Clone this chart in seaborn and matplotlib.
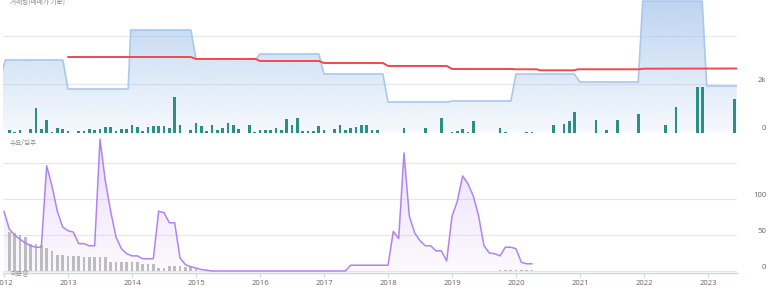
import numpy as np
import pandas as pd
import matplotlib
matplotlib.use("Agg")
import matplotlib.pyplot as plt
import matplotlib.colors as mcolors
from matplotlib.patches import PathPatch
import seaborn as sns

# ---------------- data ----------------
# price level (top panel, blue area) : decimal year / value
price_t = [2011.98, 2012.02, 2012.92, 2013.0, 2013.94, 2013.98, 2014.92, 2015.0,
           2015.94, 2016.0, 2016.92, 2017.0, 2017.92, 2018.0, 2018.94, 2019.0,
           2019.92, 2020.0, 2020.91, 2021.0, 2021.91, 2021.98, 2022.91, 2022.98, 2023.45]
price_v = [2577, 2990, 2990, 1794, 1794, 4227, 4227, 3031,
           3031, 3237, 3237, 2412, 2412, 1258, 1258, 1299,
           1299, 2412, 2412, 2083, 2083, 5420, 5420, 1918, 1918]

# trend line (top panel, red)
trend_t = [2013.0, 2014.92, 2015.0, 2015.93, 2016.0, 2016.92, 2017.0, 2017.92, 2018.0,
           2018.92, 2019.0, 2019.92, 2020.0, 2020.32, 2020.38, 2020.9, 2020.97,
           2021.92, 2022.0, 2023.45]
trend_v = [3113, 3113, 3031, 3031, 2949, 2949, 2866, 2866, 2743,
           2743, 2619, 2619, 2607, 2607, 2565, 2565, 2607,
           2607, 2631, 2640]

# monthly volume (top panel, teal bars): month index from Jan 2012
vol_m = [1, 2, 3, 5, 6, 7, 8, 9, 10, 11, 12, 14, 15, 16, 17, 18, 19, 20, 21, 22, 23,
         24, 25, 26, 27, 28, 29, 30, 31, 32, 33, 35, 36, 37, 38, 39, 40, 41, 42, 43, 44,
         46, 47, 48, 49, 50, 51, 52, 53, 54, 55, 56, 57, 58, 59, 60, 62, 63, 64, 65, 66,
         67, 68, 69, 70, 75, 79, 82, 84, 85, 86, 87, 88, 93, 94, 98, 99, 103, 105, 106,
         107, 111, 113, 115, 119, 124, 126, 130, 131, 137]
vol_v = [95, 40, 95, 150, 1020, 163, 517, 40, 204, 136, 68, 68, 68, 150, 95, 163, 230,
         218, 68, 136, 136, 313, 230, 68, 230, 272, 285, 272, 177, 1456, 313, 109, 408,
         272, 68, 313, 122, 204, 408, 313, 136, 313, 41, 109, 109, 109, 177, 109, 544,
         313, 585, 68, 68, 68, 258, 95, 136, 313, 109, 177, 245, 313, 313, 95, 95, 204,
         177, 612, 41, 68, 136, 41, 476, 204, 41, 27, 27, 299, 367, 476, 857, 517, 95,
         503, 775, 313, 1048, 1864, 1891, 1361]

# monthly unsold units (bottom panel, purple line), months 0..99 from Jan 2012
unsold_v = [83, 58, 50, 44, 39, 35, 33, 33, 146, 118, 83, 61, 56, 54, 38, 38, 35, 35,
            183, 125, 83, 47, 31, 24, 21, 21, 17, 17, 17, 83, 81, 67, 67, 18, 9, 6, 4,
            2, 1, 0, 0, 0, 0, 0, 0, 0, 0, 0, 0, 0, 0, 0, 0, 0, 0, 0, 0, 0, 0, 0, 0, 0,
            0, 0, 0, 8, 8, 8, 8, 8, 8, 8, 8, 55, 45, 164, 76, 53, 42, 35, 35, 28, 28, 14,
            76, 97, 132, 121, 104, 76, 35, 25, 24, 21, 33, 33, 31, 12, 10, 10]

# monthly supply (bottom panel, gray bars)
supply_m = list(range(1, 37)) + [93, 94, 95, 96, 97, 98, 99]
supply_v = [54, 53, 50, 47, 38, 37, 36, 32, 28, 22, 22, 21, 21, 21, 20, 20, 20, 19, 19,
            13, 13, 13, 13, 13, 12, 10, 10, 10, 4, 4, 7, 7, 7, 5, 5, 4,
            2, 2, 2, 2, 2, 2, 2]

years = list(range(2012, 2024))
top_ticks = [0, 2000, 4000]
top_labels = ["0", "2k", ""]
bot_ticks = [0, 50, 100, 150]
bot_labels = ["0", "50", "100", ""]
title_top = "거래량(매매가 기준)"
title_mid = "수요/입주"
title_bot = "미분양"

# ---------------- style ----------------
sns.set_theme(style="white")
plt.rcParams["font.family"] = ["Open Sans", "Noto Sans CJK KR", "DejaVu Sans"]
KR = ["Noto Sans CJK KR", "DejaVu Sans"]

W, H = 773, 297
fig = plt.figure(figsize=(W / 100, H / 100), dpi=100)


def rect(x0, y0, x1, y1):
    return [x0 / W, 1 - y1 / H, (x1 - x0) / W, (y1 - y0) / H]


ax1 = fig.add_axes(rect(3, 0, 737, 132.5))
ax2 = fig.add_axes(rect(3, 138, 737, 273))
XMIN, XMAX = 2012 - 1 / 64, 2012 + 733 / 64
Y1MAX = 5464
Y2MIN, Y2MAX = -2.8, 184.7


def gradient_fill(ax, x, y, color, a_top, a_bot, ytop, z):
    poly = ax.fill_between(x, y, 0, facecolor="none", edgecolor="none")
    path = poly.get_paths()[0]
    patch = PathPatch(path, transform=ax.transData, facecolor="none", edgecolor="none")
    ax.add_patch(patch)
    rgb = mcolors.to_rgb(color)
    grad = np.zeros((200, 1, 4))
    grad[:, :, :3] = rgb
    grad[:, 0, 3] = np.linspace(a_bot, a_top, 200)
    im = ax.imshow(grad, aspect="auto", extent=[XMIN, XMAX, 0, ytop],
                   origin="lower", zorder=z, interpolation="bilinear")
    im.set_clip_path(patch)


# ---------------- top panel ----------------
gradient_fill(ax1, price_t, price_v, "#a6c5ec", 0.75, 0.10, Y1MAX, 1)
sns.lineplot(x=price_t, y=price_v, ax=ax1, color="#a9c8ee", linewidth=1.2, zorder=3)
sns.lineplot(x=trend_t, y=trend_v, ax=ax1, color="#ee4a4f", linewidth=1.4, zorder=4)
vol_x = [2012 + m / 12 for m in vol_m]
ax1.bar(vol_x, vol_v, width=0.04, color="#2a8f86", zorder=5, linewidth=0)

ax1.set_xlim(XMIN, XMAX)
ax1.set_ylim(0, Y1MAX)
ax1.set_xticks([])
ax1.yaxis.tick_right()
ax1.set_yticks(top_ticks)
ax1.set_yticklabels(top_labels, ha="right", va="bottom")
ax1.tick_params(axis="y", length=0, pad=21, labelsize=5.6, labelcolor="#666666")
for yv in top_ticks:
    ax1.axhline(yv, color="#e6e6e6", linewidth=0.8, zorder=0)
for s in ax1.spines.values():
    s.set_visible(False)
ax1.set_xlabel("")
ax1.set_ylabel("")

# ---------------- bottom panel ----------------
unsold_x = [2012 + m / 12 for m in range(len(unsold_v))]
gradient_fill(ax2, unsold_x, unsold_v, "#c8a6f5", 0.38, 0.06, Y2MAX, 1)
supply_x = [2012 + m / 12 for m in supply_m]
ax2.bar(supply_x, supply_v, width=0.04, color="#bdbdbd", zorder=2, linewidth=0)
sns.lineplot(x=unsold_x, y=unsold_v, ax=ax2, color="#b183f2", linewidth=1.1, zorder=4)

ax2.set_xlim(XMIN, XMAX)
ax2.set_ylim(Y2MIN, Y2MAX)
ax2.set_xticks(years)
ax2.set_xticklabels([str(y) for y in years])
ax2.tick_params(axis="x", length=3, width=0.8, color="#ccd6eb", pad=2,
                labelsize=5.6, labelcolor="#666666", bottom=True)
ax2.yaxis.tick_right()
ax2.set_yticks(bot_ticks)
ax2.set_yticklabels(bot_labels, ha="right", va="bottom")
ax2.tick_params(axis="y", length=0, pad=21, labelsize=5.6, labelcolor="#666666")
for yv in bot_ticks:
    ax2.axhline(yv, color="#e6e6e6", linewidth=0.8, zorder=0)
for k, s in ax2.spines.items():
    s.set_visible(k == "bottom")
ax2.spines["bottom"].set_color("#ccd6eb")
ax2.spines["bottom"].set_linewidth(1)
ax2.set_xlabel("")
ax2.set_ylabel("")

# ---------------- labels ----------------
fig.text(10 / W, 1 - 1.5 / H, title_top, fontsize=4.8, color="#8a8a8a",
         va="center", ha="left", family=KR)
fig.text(10 / W, 1 - 143 / H, title_mid, fontsize=4.8, color="#8a8a8a",
         va="center", ha="left", family=KR)
fig.text(10 / W, 1 - 274 / H, title_bot, fontsize=4.8, color="#8a8a8a",
         va="center", ha="left", family=KR)

fig.savefig("out.png", dpi=100)
